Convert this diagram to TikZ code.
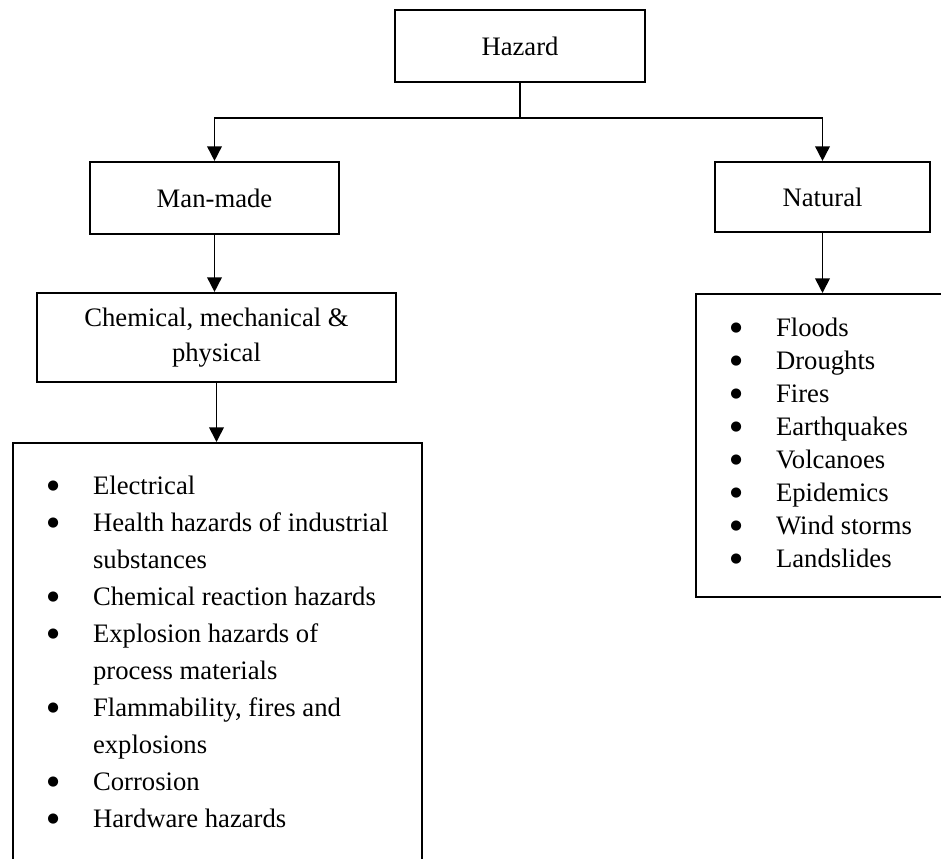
\documentclass[tikz,border=0pt]{standalone}
\usepackage{fontspec}
\setmainfont{Liberation Serif}
\newfontfamily\dotfont{DejaVu Sans}
\usepackage{tikz}
\usetikzlibrary{arrows.meta, positioning}

\newcommand\hzdot{\makebox[60pt]{\raisebox{3.8pt}{\dotfont\fontsize{10}{10}\selectfont ●}}}

\begin{document}
\begin{tikzpicture}[
    x=0.75pt, y=-0.75pt,
    box/.style={rectangle, draw, line width=1.6pt, inner sep=0pt, font=\fontsize{20}{26.25}\selectfont, align=center},
    listbox/.style={rectangle, draw, line width=1.6pt, inner xsep=0pt, anchor=north west, text depth=300pt},
    link/.style={line width=1.3pt, -{Triangle[width=11pt,length=11pt]}}
]
    \useasboundingbox (0,0) rectangle (941,859);
    \clip (0,0) rectangle (941,859);

    % Hazard box
    \node[box, minimum width=187.5pt, minimum height=54pt] (hazard) at (520,46) {Hazard};

    % Man-made box
    \node[box, minimum width=186.75pt, minimum height=54pt] (manmade) at (214.5,198) {Man-made};

    % Natural box
    \node[box, minimum width=161.25pt, minimum height=52.5pt] (natural) at (822.5,197) {Natural};

    % Chemical, mechanical & physical box
    \node[box, minimum width=269.25pt, minimum height=66.75pt] (chem) at (216.5,337.5) {Chemical, mechanical \&\\physical};

    % Man-made hazards list
    \node[listbox, inner ysep=19pt, font=\fontsize{20}{27.75}\selectfont] (manlist) at (12,442) {%
        \begin{tabular}[t]{@{}p{60pt}@{}p{246.75pt}@{}}
        \hzdot & Electrical \\
        \hzdot & Health hazards of industrial \\
               & substances \\
        \hzdot & Chemical reaction hazards \\
        \hzdot & Explosion hazards of \\
               & process materials \\
        \hzdot & Flammability, fires and \\
               & explosions \\
        \hzdot & Corrosion \\
        \hzdot & Hardware hazards \\
        \end{tabular}};

    % Natural hazards list
    \node[listbox, inner ysep=14.5pt, text depth=, font=\fontsize{20}{24.75}\selectfont] (natlist) at (695,293) {%
        \begin{tabular}[t]{@{}p{60pt}@{}p{200pt}@{}}
        \hzdot & Floods \\
        \hzdot & Droughts \\
        \hzdot & Fires \\
        \hzdot & Earthquakes \\
        \hzdot & Volcanoes \\
        \hzdot & Epidemics \\
        \hzdot & Wind storms \\
        \hzdot & Landslides \\
        \end{tabular}};

    % Connectors
    \coordinate (split) at (520,118);
    \draw[line width=1.3pt] (hazard) -- (split);
    \draw[link] (split) -| (manmade);
    \draw[link] (split) -| (natural);
    \draw[link] (manmade) -- (manmade |- chem.north);
    \draw[link] (chem) -- (chem |- manlist.north);
    \draw[link] (natural) -- (natural |- natlist.north);
\end{tikzpicture}
\end{document}
